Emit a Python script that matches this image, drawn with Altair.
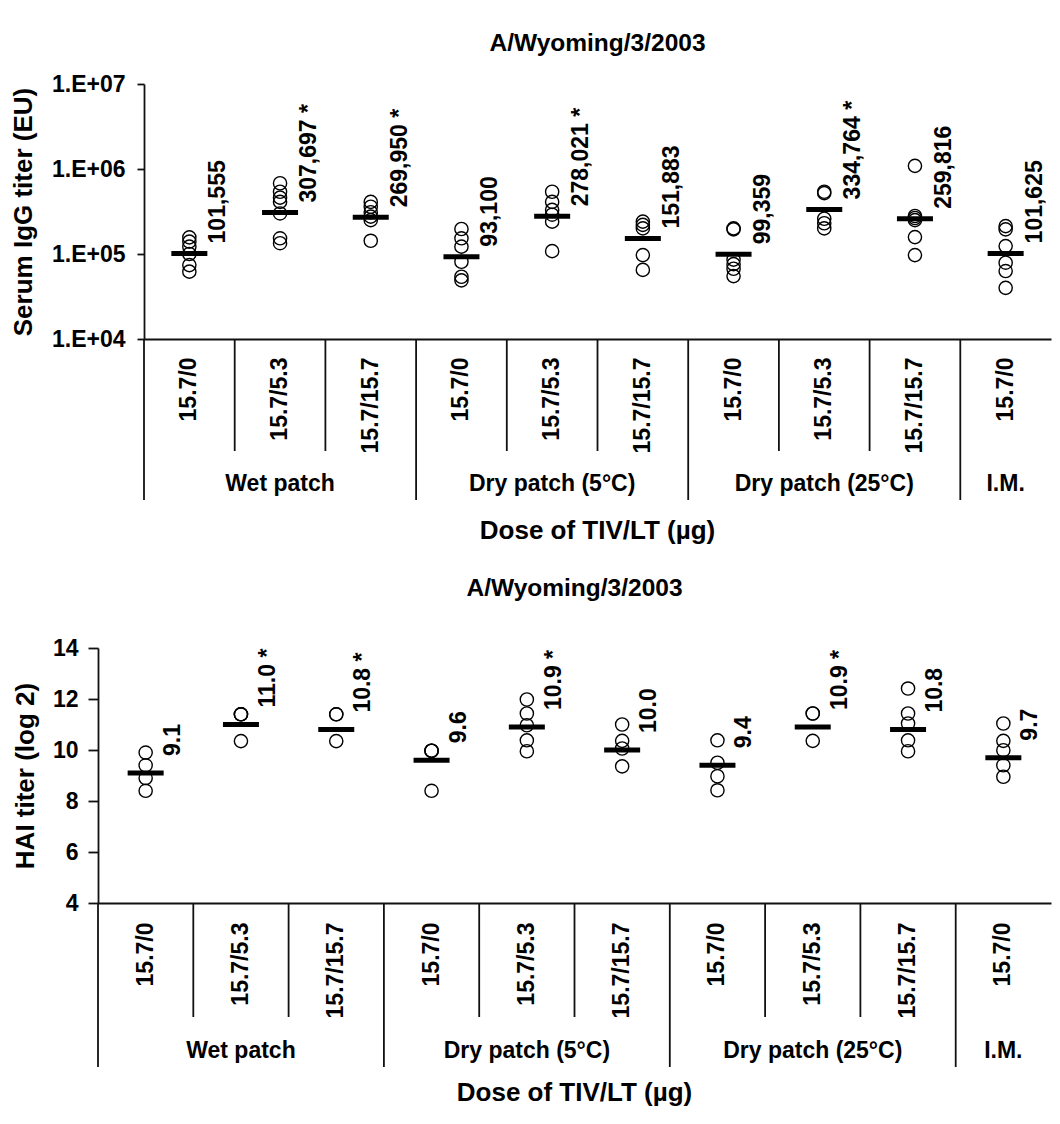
import altair as alt
import pandas as pd

# ---------------- data ----------------
groups = ["Wet patch", "Dry patch (5°C)", "Dry patch (25°C)", "I.M."]
cat_group = ["Wet patch"] * 3 + ["Dry patch (5°C)"] * 3 + ["Dry patch (25°C)"] * 3 + ["I.M."]
cat_dose = ["15.7/0", "15.7/5.3", "15.7/15.7"] * 3 + ["15.7/0"]

# Serum IgG titer (EU), individual animals
igg_points = [
    [157000, 140000, 122000, 100000, 74000, 62000],
    [680000, 540000, 460000, 410000, 300000, 153000, 134000],
    [410000, 360000, 310000, 275000, 250000, 143000],
    [197000, 153000, 122000, 81000, 54000, 49000],
    [540000, 410000, 330000, 290000, 240000, 108000],
    [240000, 220000, 200000, 97000, 65000],
    [200000, 195000, 86000, 76000, 67000, 55000],
    [540000, 520000, 260000, 230000, 200000],
    [1090000, 280000, 265000, 250000, 158000, 97000],
    [213000, 195000, 124000, 79000, 63000, 40000],
]
igg_mean = [101555, 307697, 269950, 93100, 278021, 151883, 99359, 334764, 259816, 101625]
igg_sig = [False, True, True, False, True, False, False, True, False, False]

# HAI titer (log 2), individual animals
hai_points = [
    [9.9, 9.4, 8.9, 8.4],
    [11.4, 11.4, 11.4, 10.35],
    [11.4, 11.4, 10.35],
    [9.97, 9.97, 9.97, 8.4],
    [11.98, 11.43, 10.97, 10.38, 9.95],
    [11.0, 10.36, 10.06, 9.36],
    [10.38, 9.5, 8.97, 8.42],
    [11.43, 11.43, 10.36],
    [12.41, 11.43, 11.04, 10.38, 9.95],
    [11.04, 10.36, 9.99, 9.4, 8.95],
]
hai_mean = [9.1, 11.0, 10.8, 9.6, 10.9, 10.0, 9.4, 10.9, 10.8, 9.7]
hai_sig = [False, True, True, False, True, False, False, True, False, False]

panel_title = "A/Wyoming/3/2003"
x_title = "Dose of TIV/LT (µg)"

# ---------------- helpers ----------------
keys = [f"{g}|{d}" for g, d in zip(cat_group, cat_dose)]
first_in_group = [i == 0 or cat_group[i] != cat_group[i - 1] for i in range(len(keys))]
mid_keys = []
for g in groups:
    idx = [i for i, cg in enumerate(cat_group) if cg == g]
    mid_keys.append(keys[idx[len(idx) // 2]])

FONT = "Liberation Sans"
INK = "#111111"
LBL = 23      # tick / value / group label size
TTL = 26      # axis title size
PT = 24.5     # panel title size

VW, VH = 1044, 1100   # whole drawing (one view)


def panel_layers(points, means, labels, ytitle, ytype, ydomain, yaxis_kw, geo):
    xl, xr = geo["xl"], geo["xr"]          # x pixel extent of the panel's plot
    yb, yt = geo["yb"], geo["yt"]          # y pixel extent (bottom, top)
    cx = (xl + xr) / 2
    cats = pd.DataFrame({"key": keys, "mean": means, "label": labels,
                         "first": first_in_group})
    pts = pd.DataFrame([{"key": k, "value": v}
                        for k, vals in zip(keys, points) for v in vals])
    grp = pd.DataFrame({"key": mid_keys, "group": groups})

    xs = alt.Scale(type="band", domain=keys, range=[xl, xr],
                   paddingInner=0, paddingOuter=0)
    ys_kw = dict(domain=ydomain, range=[yb, yt], nice=False)
    if ytype == "log":
        ys = alt.Scale(type="log", **ys_kw)
    else:
        ys = alt.Scale(type="linear", zero=False, **ys_kw)

    xaxis = alt.Axis(title=None, orient="bottom", offset=-(VH - yb),
                     labelAngle=-90,
                     labelExpr="split(datum.label, '|')[1]",
                     labelFontSize=LBL, labelFontWeight="bold", labelColor="#000",
                     labelPadding=geo["lp"], ticks=False, tickSize=0,
                     domainColor=INK, domainWidth=1.8, labelOverlap=False,
                     grid=False)
    yaxis = alt.Axis(title=ytitle, orient="left", offset=-xl, grid=False,
                     labelFontSize=LBL, labelFontWeight="bold", labelColor="#000",
                     titleFontSize=TTL, titleFontWeight="bold", titleColor="#000",
                     domainColor=INK, domainWidth=1.8, tickColor=INK,
                     tickWidth=1.8, **yaxis_kw)

    def X(axis=None, **kw):
        return alt.X("key:N", scale=xs, axis=axis, **kw)

    def Y(field, axis=None):
        return alt.Y(f"{field}:Q", scale=ys, axis=axis)

    base = alt.Chart(cats)
    short_div = base.transform_filter("!datum.first").mark_rule(
        color=INK, strokeWidth=1.8).encode(
        x=X(bandPosition=0), y=alt.value(yb), y2=alt.value(yb + geo["short"]))
    long_div = base.transform_filter("datum.first").mark_rule(
        color=INK, strokeWidth=1.8).encode(
        x=X(bandPosition=0), y=alt.value(yb), y2=alt.value(yb + geo["long"]))
    circles = alt.Chart(pts).mark_point(
        shape="circle", filled=False, color="#000", size=175,
        strokeWidth=1.4, opacity=1).encode(x=X(axis=xaxis), y=Y("value", yaxis))
    bars = base.mark_tick(color="#000", size=36, thickness=5, opacity=1).encode(
        x=X(), y=Y("mean"))
    vals = base.mark_text(angle=270, align="left", baseline="middle",
                          dx=geo["dx"], dy=geo["dy"], fontSize=LBL,
                          fontWeight="bold", color="#000").encode(
        x=X(), y=Y("mean"), text="label:N")
    glabels = alt.Chart(grp).mark_text(fontSize=LBL, fontWeight="bold",
                                       color="#000", baseline="alphabetic").encode(
        x=X(), y=alt.value(yb + geo["gy"]), text="group:N")
    xt = alt.Chart(pd.DataFrame({"t": [x_title]})).mark_text(
        fontSize=TTL, fontWeight="bold", color="#000", baseline="alphabetic").encode(
        x=alt.value(cx), y=alt.value(yb + geo["xt"]), text="t:N")
    tt = alt.Chart(pd.DataFrame({"t": [panel_title]})).mark_text(
        fontSize=PT, fontWeight="bold", color="#000", baseline="alphabetic").encode(
        x=alt.value(cx), y=alt.value(yt - geo["ty"]), text="t:N")
    return [short_div, long_div, circles, bars, vals, glabels, xt, tt]


igg_labels = [f"{v:,}" + (" *" if s else "") for v, s in zip(igg_mean, igg_sig)]
hai_labels = [f"{v:.1f}" + (" *" if s else "") for v, s in zip(hai_mean, hai_sig)]

top_layers = panel_layers(
    igg_points, igg_mean, igg_labels, "Serum IgG titer (EU)",
    "log", [1e4, 1e7],
    dict(values=[1e4, 1e5, 1e6, 1e7],
         labelExpr="'1.E+0' + round(log(datum.value) / LN10)",
         tickSize=7, labelPadding=12, titlePadding=15),
    dict(xl=136, xr=1043, yb=331, yt=76, lp=18, short=112, long=161,
         gy=152, xt=200, ty=33, dx=10, dy=29),
)

bottom_layers = panel_layers(
    hai_points, hai_mean, hai_labels, "HAI titer (log 2)",
    "linear", [4, 14],
    dict(values=[4, 6, 8, 10, 12, 14], tickSize=10, labelPadding=10,
         titlePadding=14),
    dict(xl=90, xr=1043, yb=895, yt=640, lp=19, short=114, long=164,
         gy=155, xt=198, ty=52, dx=17, dy=27),
)

chart = alt.layer(*top_layers, *bottom_layers).resolve_scale(
    x="independent", y="independent"
).properties(
    width=VW, height=VH, padding=0,
    autosize=alt.AutoSizeParams(type="none"),
).configure(font=FONT).configure_view(stroke=None)

chart.save("out.html", embed_options={"renderer": "svg", "actions": False})
